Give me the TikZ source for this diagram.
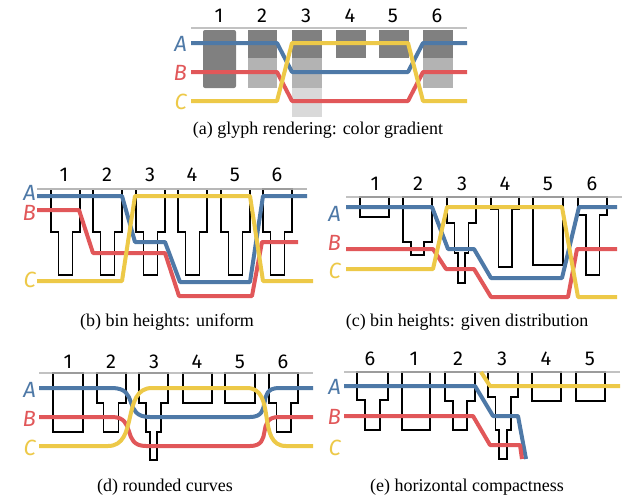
\documentclass[tikz,border=0pt]{standalone}
\usepackage{fontspec}
\setmainfont{Liberation Serif}
\newfontfamily\fira{Fira Sans}
\definecolor{cA}{HTML}{4E79A7}
\definecolor{cB}{HTML}{E15759}
\definecolor{cC}{HTML}{EDC948}
\definecolor{gD}{HTML}{808080}
\definecolor{gM}{HTML}{B3B3B3}
\definecolor{gL}{HTML}{D9D9D9}
\definecolor{gBase}{HTML}{B8B8B8}
\tikzset{
  glyph/.style={draw=black,line width=1.6pt,line join=miter},
  base/.style={draw=gBase,line width=2pt,opacity=0.85},
  lnA/.style={draw=cA,line width=4pt,line join=round},
  lnB/.style={draw=cB,line width=4pt,line join=round},
  lnC/.style={draw=cC,line width=4pt,line join=round},
  num/.style={font=\fira\fontsize{20}{20}\selectfont,inner sep=0pt},
  lab/.style={font=\fira\itshape\fontsize{22}{22}\selectfont,anchor=east,inner sep=0pt},
  captxt/.style={font=\fontsize{18}{18}\selectfont,inner sep=0pt},
}
% rectangle glyph: top, xl, xr, bottom
\newcommand\gOne[4]{\draw[glyph] (#2,#1) -- (#2,#4) -- (#3,#4) -- (#3,#1) -- cycle;}
% two tiers: top, xl, xr, yb, nl, nr, bottom
\newcommand\gTwo[7]{\draw[glyph] (#2,#1) -- (#2,#4) -- (#5,#4) -- (#5,#7) -- (#6,#7) -- (#6,#4) -- (#3,#4) -- (#3,#1) -- cycle;}
% three tiers: top, xl, xr, yb, nl, nr, yc, ml, mr, bottom
\newcommand\gThree[9]{\def\gtA{#1}\def\gtB{#2}\def\gtC{#3}\def\gtD{#4}\def\gtE{#5}\def\gtF{#6}\def\gtG{#7}\def\gtH{#8}\def\gtI{#9}\gThreeB}
\newcommand\gThreeB[1]{\draw[glyph] (\gtB,\gtA) -- (\gtB,\gtD) -- (\gtE,\gtD) -- (\gtE,\gtG) -- (\gtH,\gtG) -- (\gtH,#1) -- (\gtI,#1) -- (\gtI,\gtG) -- (\gtF,\gtG) -- (\gtF,\gtD) -- (\gtC,\gtD) -- (\gtC,\gtA) -- cycle;}
\begin{document}
\begin{tikzpicture}[x=1pt,y=-1pt]
\useasboundingbox (0,0) rectangle (630,499);
\fill[white] (0,0) rectangle (630,499);

%================ (a) ================
\fill[gD,rounded corners=2pt] (203,30) rectangle (236,88);
\fill[gD] (248,30) rectangle (277,58);
\fill[gM] (248,58) rectangle (277,88);
\fill[gD] (292,30) rectangle (322,58);
\fill[gM] (292,58) rectangle (322,88);
\fill[gL] (292,88) rectangle (322,117);
\fill[gD] (336,30) rectangle (366,58);
\fill[gD] (379,30) rectangle (409,58);
\fill[gD] (423,30) rectangle (453,58);
\fill[gM] (423,58) rectangle (453,88);
\draw[base] (191,28) -- (467,28);
\foreach \n/\x in {1/219,2/262,3/306,4/350,5/393,6/437}
  \node[num] (a\n) at (\x,15.5) {\n};
\draw[lnA] (191,43) -- (277,43) -- (292,72) -- (408,72) -- (423,43) -- (467,43);
\draw[lnB] (191,72) -- (277,72) -- (292,101) -- (408,101) -- (423,72) -- (467,72);
\draw[lnC] (191,101) -- (277,101) -- (292,43) -- (408,43) -- (423,101) -- (467,101);
\node[lab,text=cA] (aA) at (187,44) {A};
\node[lab,text=cB] (aB) at (187,73) {B};
\node[lab,text=cC] (aC) at (187,102) {C};
\node[captxt] (capa) at (318,130) {(a) glyph rendering: color gradient};

%================ (b) ================
\foreach \x in {51,93,136,178,221,263}
  \gTwo{189}{\x}{\x+29}{232}{\x+7.5}{\x+21.5}{275}
\draw[base] (37,189) -- (307,189);
\foreach \n/\x in {1/64,2/107,3/150,4/192,5/235,6/277}
  \node[num] (b\n) at (\x,175) {\n};
\draw[lnA] (37,196) -- (122,196) -- (135,242) -- (165,242) -- (180,282) -- (250,282) -- (263,196) -- (307,196);
\draw[lnB] (37,210) -- (79,210) -- (93,253) -- (165,253) -- (179,296) -- (252,296) -- (262,242) -- (298,242);
\draw[lnC] (37,281) -- (122,281) -- (135,196) -- (250,196) -- (263,281) -- (313,281);
\node[lab,text=cA] (bA) at (36,193) {A};
\node[lab,text=cB] (bB) at (36,213) {B};
\node[lab,text=cC] (bC) at (36,280) {C};
\node[captxt] (capb) at (167,322) {(b) bin heights: uniform};

%================ (c) ================
\gOne{197}{360}{389}{217}
\gTwo{197}{403}{432}{242}{411}{424}{255}
\gThree{197}{447}{476}{223}{454.5}{468.5}{253}{458}{465}{283}
\gTwo{197}{491}{519}{209}{498.5}{512}{267}
\gOne{197}{533}{563}{265}
\gTwo{197}{578}{607}{215}{586}{599.5}{275}
\draw[base] (346,197) -- (622,197);
\foreach \n/\x in {1/375,2/418,3/462,4/505,5/548,6/592}
  \node[num] (c\n) at (\x,184) {\n};
\draw[lnA] (346,207) -- (432,207) -- (448,249) -- (474,249) -- (491,278) -- (562,278) -- (579,207) -- (617,207);
\draw[lnB] (346,249) -- (433,249) -- (446,269) -- (474,269) -- (491,297) -- (568,297) -- (577,249) -- (617,249);
\draw[lnC] (346,269) -- (433,269) -- (447,207) -- (562,207) -- (578,297) -- (617,297);
\node[lab,text=cA] (cLA) at (341,214) {A};
\node[lab,text=cB] (cLB) at (341,243) {B};
\node[lab,text=cC] (cLC) at (341,271) {C};
\node[captxt] (capc) at (467,322) {(c) bin heights: given distribution};

%================ (d) ================
\gOne{373}{53}{83}{432}
\gTwo{373}{97}{126}{403}{103.5}{118.5}{432}
\gThree{373}{139}{168}{403}{146}{161}{432}{150}{157}{460}
\gOne{373}{183}{212}{403}
\gOne{373}{225}{255}{403}
\gTwo{373}{269}{298}{403}{276.5}{291}{432}
\draw[base] (39,373) -- (313,373);
\foreach \n/\x in {1/68,2/111,3/154,4/197,5/240,6/283}
  \node[num] (d\n) at (\x,362) {\n};
\draw[lnA] (39,388) -- (112,388) .. controls (140,388) and (122,417) .. (150,417) -- (250,417) .. controls (274,417) and (255,388) .. (279,388) -- (313,388);
\draw[lnB] (39,417) -- (112,417) .. controls (137,417) and (121,446) .. (146,446) -- (250,446) .. controls (274,446) and (255,417) .. (279,417) -- (313,417);
\draw[lnC] (39,446) -- (108,446) .. controls (139,446) and (121,388) .. (152,388) -- (247,388) .. controls (277,388) and (256,446) .. (286,446) -- (313,446);
\node[lab,text=cA] (dA) at (36,390) {A};
\node[lab,text=cB] (dB) at (36,419) {B};
\node[lab,text=cC] (dC) at (36,448) {C};
\node[captxt] (capd) at (165,487) {(d) rounded curves};

%================ (e) ================
\gTwo{372}{357}{388}{400}{365}{380}{430}
\gOne{372}{402}{430}{430}
\gTwo{372}{445}{475}{401}{453}{467}{430}
\gThree{372}{488}{518}{397}{495.5}{511}{430}{499}{507}{459}
\gOne{372}{532}{561}{401}
\gOne{372}{576}{605}{401}
\draw[base] (344,372) -- (620,372);
\foreach \n/\t/\x in {p1/6/370,p2/1/414,p3/2/458,p4/3/502,p5/4/546,p6/5/590}
  \node[num] (e\n) at (\x,359) {\t};
\draw[lnA] (344,386) -- (475,386) -- (493,416) -- (518,416) -- (526,459);
\draw[lnB] (344,416) -- (473,416) -- (490,445) -- (520,445) -- (522,459);
\draw[lnC] (481,372) -- (490,386) -- (620,386);
\node[lab,text=cA] (eA) at (341,387) {A};
\node[lab,text=cB] (eB) at (341,417) {B};
\node[lab,text=cC] (eC) at (341,448) {C};
\node[captxt] (cape) at (467,487) {(e) horizontal compactness};
\end{tikzpicture}
\end{document}
